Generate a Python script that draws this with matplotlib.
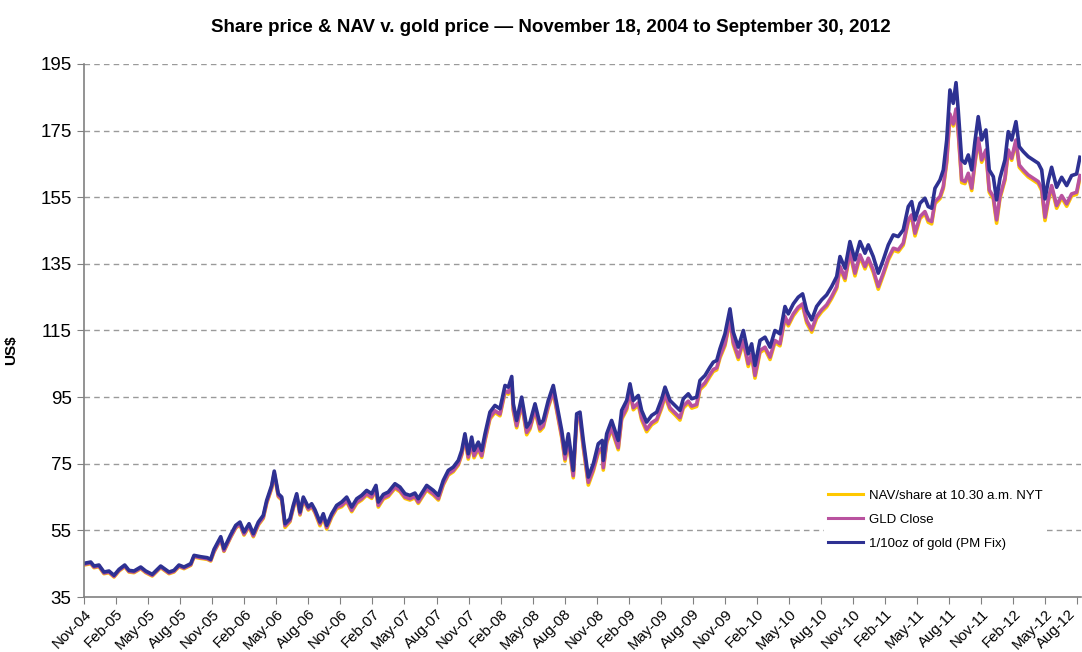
import matplotlib
matplotlib.use("Agg")
import matplotlib.pyplot as plt
from matplotlib.transforms import ScaledTranslation

# x positions in months after Nov 18, 2004
months = [
    0.00, 0.63, 0.94, 1.40, 1.87, 2.34, 2.81, 3.28, 3.81, 4.21,
    4.68, 5.31, 5.78, 6.39, 7.18, 7.96, 8.42, 8.89, 9.36, 9.99,
    10.30, 10.92, 11.54, 11.86, 12.17, 12.80, 13.10, 13.73, 14.20, 14.60,
    14.98, 15.45, 15.85, 16.32, 16.78, 17.10, 17.57, 17.81, 18.19, 18.51,
    18.82, 19.28, 19.59, 19.91, 20.22, 20.53, 21.00, 21.31, 21.62, 22.09,
    22.40, 22.72, 23.19, 23.65, 24.12, 24.59, 25.06, 25.53, 25.99, 26.46,
    26.93, 27.33, 27.55, 28.02, 28.48, 29.11, 29.58, 30.05, 30.51, 30.98,
    31.29, 32.08, 32.70, 33.17, 33.63, 34.10, 34.57, 35.04, 35.36, 35.66,
    35.97, 36.29, 36.51, 36.91, 37.23, 37.54, 38.00, 38.47, 38.94, 39.41,
    39.72, 40.04, 40.19, 40.50, 40.97, 41.44, 41.75, 42.22, 42.68, 42.99,
    43.46, 43.93, 44.25, 44.72, 45.03, 45.34, 45.80, 46.12, 46.43, 46.74,
    47.21, 47.68, 48.14, 48.51, 48.61, 48.93, 49.39, 49.70, 50.01, 50.33,
    50.80, 51.11, 51.42, 51.89, 52.20, 52.67, 53.14, 53.61, 54.08, 54.39,
    54.85, 55.32, 55.79, 56.10, 56.57, 56.89, 57.35, 57.66, 58.13, 58.60,
    58.91, 59.23, 59.53, 60.00, 60.47, 60.78, 61.25, 61.72, 62.18, 62.50,
    62.81, 63.28, 63.75, 64.22, 64.68, 65.15, 65.62, 65.93, 66.40, 66.86,
    67.27, 67.65, 68.12, 68.58, 69.05, 69.52, 69.99, 70.46, 70.77, 71.24,
    71.70, 72.17, 72.64, 73.11, 73.42, 73.88, 74.35, 74.82, 75.29, 75.76,
    76.22, 76.69, 77.16, 77.48, 77.79, 78.26, 78.72, 79.03, 79.35, 79.66,
    80.13, 80.44, 80.76, 81.06, 81.37, 81.63, 81.84, 82.16, 82.47, 82.78,
    83.10, 83.40, 83.71, 84.03, 84.43, 84.74, 85.12, 85.43, 85.74, 86.21,
    86.52, 86.84, 87.24, 87.55, 87.93, 88.39, 88.86, 89.33, 89.65, 89.96,
    90.27, 90.58, 91.05, 91.52, 91.99, 92.45, 92.92, 93.23,
]

gold = [
    45.1, 45.5, 44.3, 44.6, 42.5, 42.8, 41.5, 43.3, 44.6, 43.0,
    42.8, 44.0, 42.8, 41.8, 44.3, 42.5, 43.0, 44.6, 44.0, 45.0,
    47.5, 47.1, 46.8, 46.3, 49.3, 53.1, 49.5, 53.7, 56.5, 57.5,
    54.5, 57.0, 54.0, 57.5, 59.5, 64.0, 68.5, 72.8, 66.0, 65.0,
    57.0, 58.5, 62.5, 66.0, 60.5, 65.0, 62.0, 63.0, 61.2, 57.5,
    60.0, 56.5, 60.0, 62.5, 63.5, 65.0, 62.0, 64.5, 65.5, 67.0,
    66.0, 68.5, 63.5, 65.8, 66.5, 69.0, 68.0, 66.0, 65.5, 66.2,
    64.5, 68.5, 67.0, 65.5, 70.0, 73.0, 74.0, 76.0, 79.0, 84.0,
    78.0, 83.0, 79.0, 81.5, 79.0, 84.0, 90.5, 92.5, 91.5, 98.5,
    98.0, 101.2, 93.0, 88.0, 95.0, 86.0, 87.5, 93.0, 87.0, 88.0,
    94.0, 98.5, 93.0, 85.0, 78.0, 84.0, 73.0, 90.0, 90.5, 82.0,
    71.0, 75.0, 81.0, 82.0, 76.0, 84.0, 88.0, 85.0, 82.0, 91.0,
    94.0, 99.0, 94.0, 95.5, 91.0, 87.5, 89.5, 90.5, 94.5, 98.0,
    94.0, 92.5, 91.0, 94.5, 96.0, 94.5, 95.0, 100.0, 101.5, 104.0,
    105.5, 106.0, 109.5, 114.0, 121.5, 114.5, 110.0, 115.0, 108.0, 111.0,
    104.5, 112.0, 113.0, 110.0, 115.0, 114.0, 122.2, 120.0, 123.0, 125.0,
    126.0, 121.0, 118.2, 122.2, 124.2, 125.7, 128.2, 131.2, 137.2, 133.7,
    141.7, 136.2, 141.7, 138.2, 140.7, 137.2, 132.2, 136.2, 140.7, 143.7,
    143.2, 145.2, 152.2, 153.7, 148.2, 153.2, 154.7, 152.2, 151.7, 157.7,
    160.2, 163.2, 172.2, 187.2, 183.2, 189.4, 181.0, 166.2, 165.2, 167.7,
    163.2, 171.7, 179.2, 172.2, 175.2, 163.2, 161.2, 154.2, 160.7, 166.2,
    174.7, 172.2, 177.7, 170.2, 168.7, 167.2, 166.2, 165.2, 163.2, 154.5,
    160.0, 164.0, 158.0, 161.0, 158.5, 161.5, 162.0, 167.0,
]

gld_close = [
    44.8, 45.2, 44.0, 44.3, 42.2, 42.5, 41.2, 43.0, 44.3, 42.7,
    42.5, 43.7, 42.5, 41.5, 44.0, 42.2, 42.7, 44.3, 43.7, 44.7,
    47.2, 46.8, 46.5, 46.0, 48.7, 52.5, 48.9, 53.1, 55.9, 56.9,
    53.9, 56.4, 53.4, 56.9, 58.9, 63.4, 67.9, 72.2, 65.4, 64.4,
    56.4, 57.9, 61.9, 65.4, 59.9, 64.4, 61.4, 62.4, 60.6, 56.9,
    59.4, 55.9, 59.4, 61.9, 62.5, 64.0, 61.0, 63.5, 64.5, 66.0,
    65.0, 67.5, 62.5, 64.8, 65.5, 68.0, 67.0, 65.0, 64.5, 65.2,
    63.5, 67.5, 66.0, 64.5, 69.0, 72.0, 73.0, 75.0, 78.0, 83.0,
    77.0, 81.4, 77.4, 79.9, 77.4, 82.4, 88.9, 90.9, 89.9, 96.9,
    96.4, 99.6, 91.4, 86.4, 93.4, 84.4, 85.9, 91.4, 85.4, 86.4,
    92.4, 96.9, 91.4, 83.4, 76.4, 82.4, 71.4, 88.4, 88.9, 80.4,
    69.4, 73.4, 78.8, 79.8, 73.8, 81.8, 85.8, 82.8, 79.8, 88.8,
    91.8, 96.8, 91.8, 93.3, 88.8, 85.3, 87.3, 88.3, 92.3, 95.8,
    91.8, 90.3, 88.8, 92.3, 93.8, 92.3, 92.8, 97.8, 99.3, 101.8,
    103.3, 103.8, 107.3, 111.0, 118.5, 111.5, 107.0, 112.0, 105.0, 108.0,
    101.5, 109.0, 110.0, 107.0, 112.0, 111.0, 119.2, 117.0, 120.0, 122.0,
    123.0, 118.0, 115.2, 119.2, 121.2, 122.7, 125.2, 128.2, 134.2, 130.7,
    138.7, 132.2, 137.7, 134.2, 136.7, 133.2, 128.2, 132.2, 136.7, 139.7,
    139.2, 141.2, 148.2, 149.7, 144.2, 149.2, 150.7, 148.2, 147.7, 153.7,
    155.2, 158.2, 166.2, 180.0, 177.0, 181.5, 175.0, 160.2, 159.7, 162.2,
    157.7, 165.7, 172.7, 166.2, 169.2, 157.2, 155.2, 148.2, 155.2, 160.7,
    169.2, 166.7, 172.2, 164.7, 163.2, 161.7, 160.7, 159.7, 157.7, 149.0,
    154.5, 158.5, 152.5, 155.5, 153.0, 156.0, 156.5, 161.5,
]

nav_share = [
    44.6, 45.0, 43.8, 44.1, 42.0, 42.3, 41.0, 42.8, 44.1, 42.5,
    42.3, 43.5, 42.3, 41.3, 43.8, 42.0, 42.5, 44.1, 43.5, 44.5,
    47.0, 46.6, 46.3, 45.8, 48.5, 52.3, 48.7, 52.9, 55.7, 56.7,
    53.6, 56.1, 53.1, 56.6, 58.6, 63.1, 67.6, 71.9, 65.1, 64.1,
    55.9, 57.6, 61.6, 65.1, 59.6, 64.1, 61.1, 62.1, 60.3, 56.4,
    59.0, 55.4, 59.0, 61.5, 62.1, 63.6, 60.6, 63.1, 64.1, 65.6,
    64.6, 67.1, 62.0, 64.4, 65.1, 67.6, 66.6, 64.6, 64.1, 64.8,
    63.1, 67.1, 65.6, 64.1, 68.6, 71.6, 72.6, 74.6, 77.6, 82.6,
    76.4, 80.9, 76.8, 79.4, 76.9, 81.9, 88.4, 90.4, 89.4, 96.4,
    95.9, 99.1, 90.8, 85.8, 92.9, 83.7, 85.4, 90.9, 84.8, 85.9,
    91.9, 96.4, 90.9, 82.8, 75.8, 81.9, 70.8, 87.9, 88.4, 79.8,
    68.6, 72.8, 78.2, 79.3, 73.1, 81.3, 85.3, 82.3, 79.2, 88.3,
    91.2, 96.2, 91.2, 92.7, 88.1, 84.6, 86.7, 87.7, 91.7, 95.2,
    91.2, 89.7, 88.1, 91.7, 93.2, 91.7, 92.2, 97.2, 98.7, 101.2,
    102.7, 103.2, 106.7, 110.4, 117.9, 110.8, 106.3, 111.4, 104.2, 107.4,
    100.7, 108.4, 109.4, 106.3, 111.4, 110.4, 118.6, 116.4, 119.4, 121.4,
    122.4, 117.3, 114.5, 118.6, 120.6, 122.1, 124.6, 127.6, 133.6, 130.0,
    138.1, 131.4, 137.1, 133.5, 136.1, 132.5, 127.4, 131.6, 136.1, 139.1,
    138.6, 140.6, 147.6, 149.1, 143.4, 148.6, 150.1, 147.5, 147.0, 153.1,
    154.6, 157.6, 165.4, 179.4, 176.4, 180.9, 174.2, 159.4, 159.1, 161.6,
    157.0, 165.1, 172.1, 165.5, 168.6, 156.5, 154.5, 147.2, 154.6, 160.1,
    168.6, 166.1, 171.6, 164.0, 162.6, 161.1, 160.1, 159.1, 157.0, 148.0,
    153.8, 157.9, 151.7, 154.9, 152.3, 155.4, 155.9, 160.9,
]

tick_labels = [
    "Nov-04", "Feb-05", "May-05", "Aug-05", "Nov-05", "Feb-06", "May-06", "Aug-06",
    "Nov-06", "Feb-07", "May-07", "Aug-07", "Nov-07", "Feb-08", "May-08", "Aug-08",
    "Nov-08", "Feb-09", "May-09", "Aug-09", "Nov-09", "Feb-10", "May-10", "Aug-10",
    "Nov-10", "Feb-11", "May-11", "Aug-11", "Nov-11", "Feb-12", "May-12", "Aug-12",
]
y_ticks = [35, 55, 75, 95, 115, 135, 155, 175, 195]

series_labels = ["NAV/share at 10.30 a.m. NYT", "GLD Close", "1/10oz of gold (PM Fix)"]
series_colors = ["#FFC800", "#B9529F", "#2E3192"]

plt.rcParams["font.family"] = ["Liberation Sans", "DejaVu Sans"]

fig = plt.figure(figsize=(10.82, 6.52), dpi=100)
ax = fig.add_axes([84 / 1082, 55 / 652, 997 / 1082, 533 / 652])

for vals, lab, col in zip([nav_share, gld_close, gold], series_labels, series_colors):
    ax.plot(months, vals, color=col, lw=2.6, label=lab, solid_joinstyle="round")

ax.set_xlim(0, 93.33)
ax.set_ylim(35, 195)
ax.set_yticks(y_ticks)
ax.set_xticks([3 * i for i in range(len(tick_labels))])
ax.set_xticklabels(tick_labels, rotation=45, ha="right", rotation_mode="anchor", fontsize=10.8)
ax.tick_params(axis="y", labelsize=13.5, length=5, color="#808080", pad=4)
ax.tick_params(axis="x", length=5, color="#808080", pad=2)

# the last rotated label would poke past the right edge, so pull it in a bit
xlabels = ax.get_xticklabels()
shift = ScaledTranslation(-9 / 100, 0, fig.dpi_scale_trans)
xlabels[-1].set_transform(xlabels[-1].get_transform() + shift)

for y in y_ticks[1:]:
    ax.axhline(y, color="#9a9a9a", lw=1, ls=(0, (4, 3)), zorder=0)

for side in ["top", "right"]:
    ax.spines[side].set_visible(False)
for side in ["left", "bottom"]:
    ax.spines[side].set_color("#808080")
    ax.spines[side].set_linewidth(1.2)

ax.set_ylabel("US$", fontsize=11, fontweight="bold")
ax.yaxis.set_label_coords(-0.066, 0.463)

leg = ax.legend(loc="upper left", bbox_to_anchor=(0.742, 0.209), frameon=True,
                fontsize=9.5, handlelength=2.7, handletextpad=0.4, labelspacing=0.9,
                borderaxespad=0, borderpad=0.3)
leg.get_frame().set_edgecolor("none")
leg.get_frame().set_facecolor("white")
leg.get_frame().set_alpha(1)
for line in leg.get_lines():
    line.set_linewidth(2.2)

fig.text(551 / 1082, 1 - 27 / 652,
         "Share price & NAV v. gold price \u2014 November 18, 2004 to September 30, 2012",
         ha="center", va="center", fontsize=13.5, fontweight="bold")

fig.savefig("out.png", dpi=100)
